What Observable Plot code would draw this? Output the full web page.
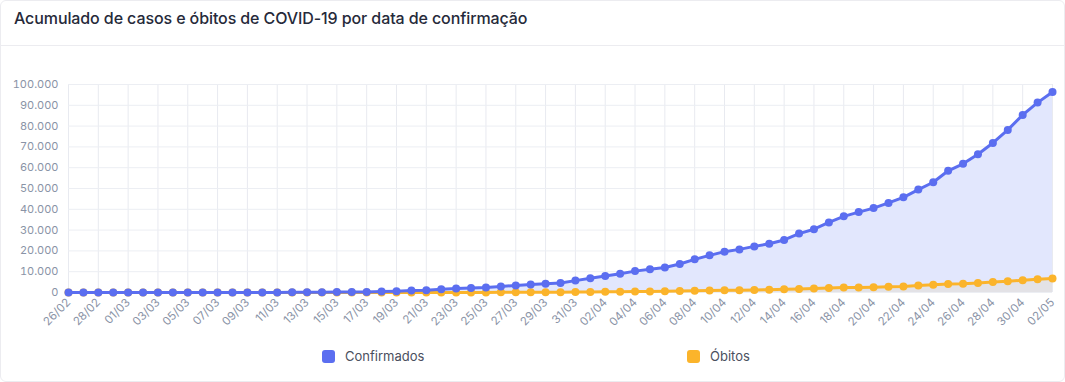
<!DOCTYPE html>
<html>
<head>
<meta charset="utf-8">
<script src="https://cdn.jsdelivr.net/npm/d3@7"></script>
<script src="https://cdn.jsdelivr.net/npm/@observablehq/plot@0.6"></script>
<style>
  html, body { margin: 0; padding: 0; background: #fff; }
  body { width: 1065px; height: 382px; position: relative; overflow: hidden; font-family: Inter, "Noto Sans", sans-serif; }
  #card { position: absolute; left: 0; top: 0; width: 1063px; height: 380px; border: 1px solid #ececf0; border-radius: 6px; }
  #title { position: absolute; left: 14px; top: 8px; font-size: 16px; font-weight: 500; color: #262a3a; letter-spacing: -0.1px; }
  #sep { position: absolute; left: 0; top: 45px; width: 1065px; height: 1px; background: #ececf0; }
  #chart { position: absolute; left: 0; top: 50px; }
  .leg { position: absolute; top: 348px; font-size: 13px; color: #4a4f5e; display: flex; align-items: center; }
  .sw { width: 13px; height: 13px; border-radius: 3px; margin-right: 10px; }
</style>
</head>
<body>
<div id="card"></div>
<div id="title">Acumulado de casos e óbitos de COVID-19 por data de confirmação</div>
<div id="sep"></div>
<div id="chart"></div>
<div class="leg" style="left:322px"><div class="sw" style="background:#5b6ef0"></div>Confirmados</div>
<div class="leg" style="left:687px"><div class="sw" style="background:#fbb42b"></div>Óbitos</div>
<script>
const dates = ["26/02","27/02","28/02","29/02","01/03","02/03","03/03","04/03","05/03","06/03","07/03","08/03","09/03","10/03","11/03","12/03","13/03","14/03","15/03","16/03","17/03","18/03","19/03","20/03","21/03","22/03","23/03","24/03","25/03","26/03","27/03","28/03","29/03","30/03","31/03","01/04","02/04","03/04","04/04","05/04","06/04","07/04","08/04","09/04","10/04","11/04","12/04","13/04","14/04","15/04","16/04","17/04","18/04","19/04","20/04","21/04","22/04","23/04","24/04","25/04","26/04","27/04","28/04","29/04","30/04","01/05","02/05"];
const confirmados = [1,1,1,2,2,2,2,3,8,13,19,25,25,34,52,77,98,121,200,234,291,428,621,904,1128,1546,1891,2201,2433,2915,3417,3904,4256,4579,5717,6836,7910,9056,10278,11130,12056,13717,15927,17857,19638,20727,22169,23430,25262,28320,30425,33682,36599,38654,40581,43079,45757,49492,52995,58509,61888,66501,71886,78162,85380,91299,96396];
const obitos = [0,0,0,0,0,0,0,0,0,0,0,0,0,0,0,0,0,0,0,0,1,4,7,11,18,25,34,46,59,77,92,111,136,159,201,240,324,359,445,486,553,667,800,941,1056,1124,1223,1328,1532,1736,1924,2141,2347,2462,2575,2741,2906,3331,3704,4057,4205,4543,5017,5466,5901,6329,6750];
const yTicks = [0,10000,20000,30000,40000,50000,60000,70000,80000,90000,100000];

const rowsC = dates.map((d, i) => ({date: d, value: confirmados[i]}));
const rowsO = dates.map((d, i) => ({date: d, value: obitos[i]}));
const xTicks = dates.filter((d, i) => i % 2 === 0);
const fmt = d3.formatLocale({decimal: ",", thousands: ".", grouping: [3], currency: ["R$", ""]}).format(",d");
const BLUE = "#5b6ef0", ORANGE = "#fbb42b";

const plot = Plot.plot({
  width: 1065,
  height: 290,
  marginLeft: 68,
  marginRight: 13,
  marginTop: 34,
  marginBottom: 48,
  style: {fontFamily: "Inter, 'Noto Sans', sans-serif", fontSize: "11px", color: "#8a93a6", background: "transparent"},
  x: {type: "point", domain: dates, padding: 0},
  y: {domain: [0, 100000]},
  marks: [
    Plot.gridX(xTicks, {stroke: "#e8eaf0", strokeOpacity: 1}),
    Plot.gridY(yTicks, {stroke: "#eceef3", strokeOpacity: 1}),
    Plot.areaY(rowsC, {x: "date", y: "value", fill: "#e2e7fd", fillOpacity: 1}),
    Plot.areaY(rowsO, {x: "date", y: "value", fill: "#e3e2e6", fillOpacity: 1}),
    Plot.line(rowsO, {x: "date", y: "value", stroke: ORANGE, strokeWidth: 3}),
    Plot.dot(rowsO, {x: "date", y: "value", fill: ORANGE, r: 4}),
    Plot.line(rowsC, {x: "date", y: "value", stroke: BLUE, strokeWidth: 3}),
    Plot.dot(rowsC, {x: "date", y: "value", fill: BLUE, r: 4}),
    Plot.axisY(yTicks, {tickFormat: fmt, tickSize: 0, tickPadding: 10, fill: "#8a93a6", fontSize: 11, label: null}),
    Plot.axisX(xTicks, {tickRotate: -45, tickSize: 0, tickPadding: 8, fill: "#8a93a6", fontSize: 11.5, label: null})
  ]
});
document.getElementById("chart").appendChild(plot);
</script>
</body>
</html>
